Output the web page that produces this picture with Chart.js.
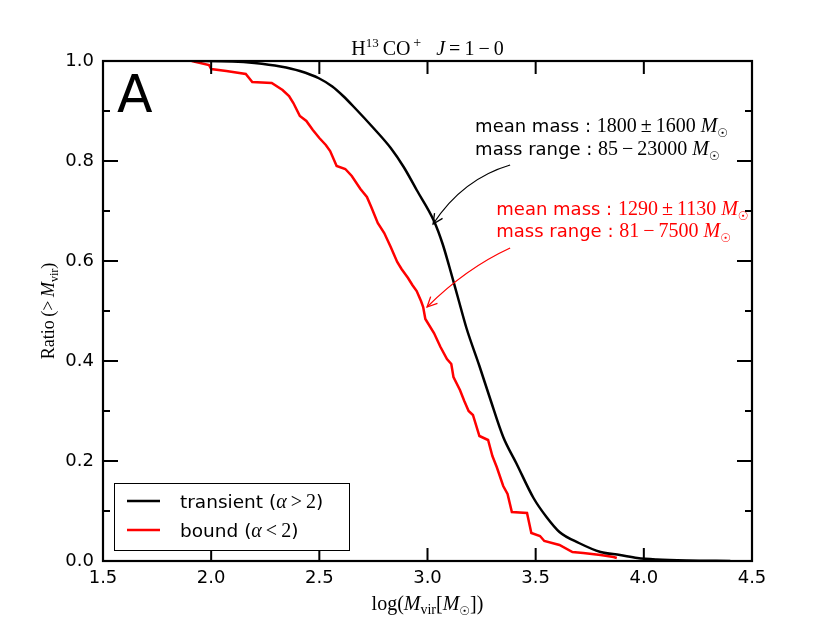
<!DOCTYPE html>
<html>
<head>
<meta charset="utf-8">
<script src="https://cdn.jsdelivr.net/npm/chart.js@4/dist/chart.umd.min.js"></script>
<style>
  html, body { margin: 0; padding: 0; background: #fff; }
  canvas { display: block; }
</style>
</head>
<body>
<canvas id="myChart" width="830" height="623"></canvas>
<script>
// Dados: log(Mvir) e fração acumulada (> Mvir)
const transientX = [1.92, 2.10, 2.20, 2.32, 2.41, 2.50, 2.56, 2.61, 2.66, 2.75, 2.83, 2.89, 2.95, 3.03, 3.07, 3.10,
                    3.14, 3.18, 3.24, 3.29, 3.35, 3.41, 3.49, 3.55, 3.61, 3.70, 3.80, 3.89, 3.97, 4.06, 4.20, 4.40];
const transientY = [1.000, 0.999, 0.996, 0.989, 0.980, 0.965, 0.949, 0.930, 0.908, 0.866, 0.826, 0.788, 0.742, 0.680, 0.634, 0.590,
                    0.528, 0.466, 0.390, 0.324, 0.248, 0.196, 0.126, 0.088, 0.058, 0.036, 0.018, 0.012, 0.006, 0.003, 0.001, 0.000];

const boundX = [1.91, 1.99, 2.00, 2.07, 2.16, 2.19, 2.28, 2.33, 2.36, 2.38, 2.41, 2.44, 2.47, 2.50, 2.53, 2.55,
                2.58, 2.62, 2.65, 2.69, 2.72, 2.74, 2.77, 2.80, 2.83, 2.86, 2.88, 2.91, 2.93, 2.95, 2.97, 2.98,
                2.99, 3.03, 3.06, 3.09, 3.11, 3.12, 3.15, 3.17, 3.19, 3.21, 3.24, 3.28, 3.30, 3.32, 3.35, 3.37,
                3.39, 3.46, 3.48, 3.52, 3.54, 3.61, 3.67, 3.72, 3.80, 3.86, 3.875];
const boundY = [1.000, 0.992, 0.984, 0.980, 0.974, 0.958, 0.956, 0.942, 0.930, 0.916, 0.890, 0.880, 0.862, 0.846, 0.832, 0.820,
                0.790, 0.784, 0.770, 0.744, 0.728, 0.708, 0.676, 0.656, 0.628, 0.598, 0.584, 0.566, 0.552, 0.540, 0.520, 0.508,
                0.484, 0.456, 0.428, 0.404, 0.394, 0.368, 0.342, 0.320, 0.300, 0.292, 0.250, 0.242, 0.210, 0.188, 0.150, 0.134,
                0.098, 0.096, 0.056, 0.050, 0.040, 0.032, 0.018, 0.016, 0.012, 0.008, 0.006];

const xTickLabels = ['1.5', '2.0', '2.5', '3.0', '3.5', '4.0', '4.5'];
const yTickLabels = ['0.0', '0.2', '0.4', '0.6', '0.8', '1.0'];

const SANS = '"DejaVu Sans", sans-serif';
const SERIF = '"Liberation Serif", "DejaVu Serif", serif';
const FINO = '\u2009'; // espaço fino

function pares(xs, ys) {
    return xs.map((x, i) => ({ x: x, y: ys[i] }));
}

// Desenha um texto composto por vários trechos (fonte e deslocamento vertical próprios)
function desenhaTrechos(ctx, trechos, x, y, align) {
    let largura = 0;
    trechos.forEach(t => { ctx.font = t.font; largura += ctx.measureText(t.text).width; });
    let cx = align === 'center' ? x - largura / 2 : (align === 'right' ? x - largura : x);
    ctx.textAlign = 'left';
    ctx.textBaseline = 'alphabetic';
    trechos.forEach(t => {
        ctx.font = t.font;
        ctx.fillText(t.text, cx, y + (t.dy || 0));
        cx += ctx.measureText(t.text).width;
    });
}

function massaTrechos(prefixo, valor) {
    return [
        { text: prefixo, font: '18px ' + SANS },
        { text: valor + ' ', font: '20px ' + SERIF },
        { text: 'M', font: 'italic 20px ' + SERIF },
        { text: '\u2609', font: '12px ' + SANS, dy: 5 }
    ];
}

function seta(ctx, x0, y0, cx, cy, x1, y1, cor) {
    ctx.save();
    ctx.strokeStyle = cor;
    ctx.lineWidth = 1.3;
    ctx.beginPath();
    ctx.moveTo(x0, y0);
    ctx.quadraticCurveTo(cx, cy, x1, y1);
    ctx.stroke();
    const ang = Math.atan2(y1 - cy, x1 - cx);
    const L = 11, a = 0.45;
    ctx.beginPath();
    ctx.moveTo(x1 - L * Math.cos(ang - a), y1 - L * Math.sin(ang - a));
    ctx.lineTo(x1, y1);
    ctx.lineTo(x1 - L * Math.cos(ang + a), y1 - L * Math.sin(ang + a));
    ctx.stroke();
    ctx.restore();
}

const molduraPlugin = {
    id: 'moldura',
    afterDatasetsDraw(chart) {
        const ctx = chart.ctx;
        const a = chart.chartArea;
        const xs = chart.scales.x, ys = chart.scales.y;
        ctx.save();
        ctx.strokeStyle = '#000';
        ctx.lineWidth = 2;

        // ticks para dentro, nos quatro lados
        ctx.beginPath();
        for (let v = 1.5; v <= 4.5001; v += 0.5) {
            const px = xs.getPixelForValue(v);
            ctx.moveTo(px, a.bottom); ctx.lineTo(px, a.bottom - 13);
            ctx.moveTo(px, a.top); ctx.lineTo(px, a.top + 13);
        }
        for (let i = 0; i <= 10; i++) {
            const py = ys.getPixelForValue(i / 10);
            const len = i % 2 === 0 ? 15 : 7;
            ctx.moveTo(a.left, py); ctx.lineTo(a.left + len, py);
            ctx.moveTo(a.right, py); ctx.lineTo(a.right - len, py);
        }
        ctx.stroke();
        ctx.lineWidth = 2.2;
        ctx.strokeRect(a.left, a.top, a.right - a.left, a.bottom - a.top);

        // letra do painel
        ctx.fillStyle = '#000';
        ctx.font = '52px ' + SANS;
        ctx.textBaseline = 'alphabetic';
        ctx.fillText('A', a.left + 14, a.top + 51);

        // título
        desenhaTrechos(ctx, [
            { text: 'H', font: '20px ' + SERIF },
            { text: '13', font: '13px ' + SERIF, dy: -8 },
            { text: FINO + 'CO', font: '20px ' + SERIF },
            { text: FINO + '+', font: '14px ' + SERIF, dy: -8 },
            { text: '   ', font: '20px ' + SERIF },
            { text: 'J', font: 'italic 20px ' + SERIF },
            { text: FINO + '=' + FINO + '1' + FINO + '\u2212' + FINO + '0', font: '20px ' + SERIF }
        ], (a.left + a.right) / 2, 55, 'center');

        // título do eixo x
        desenhaTrechos(ctx, [
            { text: 'log(', font: '20px ' + SERIF },
            { text: 'M', font: 'italic 20px ' + SERIF },
            { text: 'vir', font: '14px ' + SERIF, dy: 4 },
            { text: '[', font: '20px ' + SERIF },
            { text: 'M', font: 'italic 20px ' + SERIF },
            { text: '\u2609', font: '12px ' + SANS, dy: 5 },
            { text: '])', font: '20px ' + SERIF }
        ], (a.left + a.right) / 2, 610, 'center');

        // título do eixo y (rotacionado)
        ctx.save();
        ctx.translate(54, (a.top + a.bottom) / 2);
        ctx.rotate(-Math.PI / 2);
        desenhaTrechos(ctx, [
            { text: 'Ratio' + FINO + '(', font: '18px ' + SERIF },
            { text: '>' + FINO, font: '18px ' + SERIF },
            { text: 'M', font: 'italic 18px ' + SERIF },
            { text: 'vir', font: '12px ' + SERIF, dy: 4 },
            { text: ')', font: '18px ' + SERIF }
        ], 0, 0, 'center');
        ctx.restore();

        // anotações com setas
        ctx.fillStyle = '#000';
        desenhaTrechos(ctx, massaTrechos('mean mass : ', '1800' + FINO + '\u00b1' + FINO + '1600'),
            xs.getPixelForValue(3.22), ys.getPixelForValue(0.858), 'left');
        desenhaTrechos(ctx, massaTrechos('mass range : ', '85' + FINO + '\u2212' + FINO + '23000'),
            xs.getPixelForValue(3.22), ys.getPixelForValue(0.812), 'left');
        seta(ctx, xs.getPixelForValue(3.382), ys.getPixelForValue(0.792),
            xs.getPixelForValue(3.162), ys.getPixelForValue(0.764),
            xs.getPixelForValue(3.026), ys.getPixelForValue(0.674), '#000');

        ctx.fillStyle = '#ff0000';
        desenhaTrechos(ctx, massaTrechos('mean mass : ', '1290' + FINO + '\u00b1' + FINO + '1130'),
            xs.getPixelForValue(3.318), ys.getPixelForValue(0.692), 'left');
        desenhaTrechos(ctx, massaTrechos('mass range : ', '81' + FINO + '\u2212' + FINO + '7500'),
            xs.getPixelForValue(3.318), ys.getPixelForValue(0.648), 'left');
        seta(ctx, xs.getPixelForValue(3.382), ys.getPixelForValue(0.626),
            xs.getPixelForValue(3.176), ys.getPixelForValue(0.585),
            xs.getPixelForValue(2.998), ys.getPixelForValue(0.508), '#ff0000');

        // legenda dentro do gráfico
        const lx = a.left + 11, ly = a.bottom - 78, lw = 235, lh = 67;
        ctx.fillStyle = '#fff';
        ctx.fillRect(lx, ly, lw, lh);
        ctx.lineWidth = 1;
        ctx.strokeStyle = '#000';
        ctx.strokeRect(lx + 0.5, ly + 0.5, lw, lh);
        chart.data.datasets.forEach((ds, i) => {
            const yy = ly + 18 + i * 29;
            ctx.strokeStyle = ds.borderColor;
            ctx.lineWidth = 2.5;
            ctx.beginPath();
            ctx.moveTo(lx + 13, yy); ctx.lineTo(lx + 46, yy);
            ctx.stroke();
            ctx.fillStyle = '#000';
            desenhaTrechos(ctx, [
                { text: ds.label + ' (', font: '18.5px ' + SANS },
                { text: '\u03b1' + FINO, font: 'italic 20px ' + SERIF },
                { text: ds.rotuloAlfa, font: '20px ' + SERIF },
                { text: ')', font: '18.5px ' + SANS }
            ], lx + 66, yy + 7, 'left');
        });
        ctx.restore();
    }
};

const ctx = document.getElementById('myChart').getContext('2d');
const myChart = new Chart(ctx, {
    type: 'line',
    data: {
        datasets: [{
            label: 'transient',
            rotuloAlfa: '>' + FINO + '2',
            data: pares(transientX, transientY),
            borderColor: '#000000',
            borderWidth: 2.5,
            pointRadius: 0,
            cubicInterpolationMode: 'monotone',
            fill: false
        }, {
            label: 'bound',
            rotuloAlfa: '<' + FINO + '2',
            data: pares(boundX, boundY),
            borderColor: '#ff0000',
            borderWidth: 2.5,
            pointRadius: 0,
            tension: 0,
            fill: false
        }]
    },
    options: {
        responsive: false,
        animation: false,
        devicePixelRatio: 1,
        layout: {
            padding: { top: 61, right: 78, bottom: 0, left: 0 }
        },
        plugins: {
            legend: { display: false },
            title: { display: false },
            tooltip: { enabled: false }
        },
        scales: {
            x: {
                type: 'linear',
                min: 1.5,
                max: 4.5,
                grid: { display: false, drawTicks: false },
                border: { display: false },
                afterFit: (s) => { s.height = 62; },
                ticks: {
                    stepSize: 0.5,
                    padding: 7,
                    color: '#000',
                    font: { family: 'DejaVu Sans', size: 18 },
                    maxRotation: 0,
                    callback: (v) => xTickLabels[Math.round((v - 1.5) / 0.5)]
                }
            },
            y: {
                min: 0,
                max: 1,
                grid: { display: false, drawTicks: false },
                border: { display: false },
                afterFit: (s) => { s.width = 103; },
                ticks: {
                    stepSize: 0.2,
                    padding: 9,
                    color: '#000',
                    font: { family: 'DejaVu Sans', size: 18 },
                    callback: (v) => yTickLabels[Math.round(v / 0.2)]
                }
            }
        }
    },
    plugins: [molduraPlugin]
});
</script>
</body>
</html>
